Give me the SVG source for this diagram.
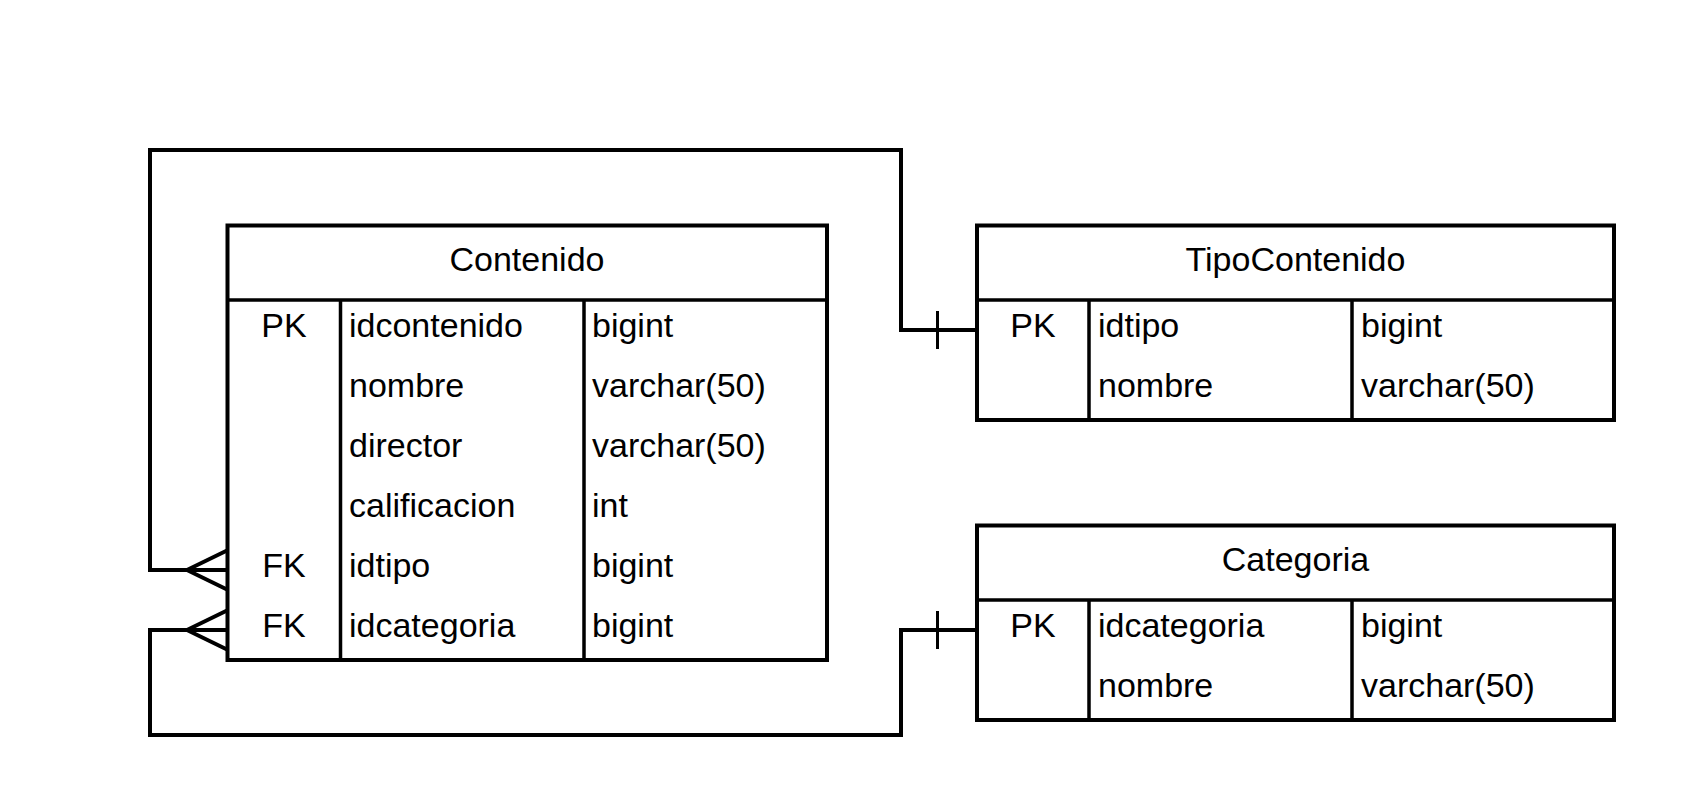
<svg xmlns="http://www.w3.org/2000/svg" width="1689" height="810" viewBox="0 0 1689 810">
<style>
.box{fill:#fff;stroke:#000;stroke-width:4}
.div{fill:none;stroke:#000;stroke-width:3.5}
.conn{fill:none;stroke:#000;stroke-width:4}
.tick{fill:none;stroke:#000;stroke-width:3}
text{font-family:"Liberation Sans",Arial,sans-serif;font-size:34px;fill:#000}
.c{text-anchor:middle}
</style>
<rect width="1689" height="810" fill="#fff"/>
<g id="connectors">
<path class="conn" d="M227,570 H150 V150 H901 V330 H977"/>
<path class="conn" d="M187,570 L227,550.5 M187,570 L227,589.5"/>
<path class="tick" d="M937.5,311 V349"/>
<path class="conn" d="M227,630 H150 V735 H901 V630 H977"/>
<path class="conn" d="M187,630 L227,610.5 M187,630 L227,649.5"/>
<path class="tick" d="M937.5,611 V649"/>
</g>
<g id="Contenido">
<rect class="box" x="227.5" y="225.5" width="599.5" height="434.5"/>
<path class="div" d="M227.5,300 H827 M340.5,300 V660 M584,300 V660"/>
<text class="c" x="527" y="271">Contenido</text>
<text class="c" x="284" y="337">PK</text>
<text x="349" y="337">idcontenido</text>
<text x="592" y="337">bigint</text>
<text x="349" y="397">nombre</text>
<text x="592" y="397">varchar(50)</text>
<text x="349" y="457">director</text>
<text x="592" y="457">varchar(50)</text>
<text x="349" y="517">calificacion</text>
<text x="592" y="517">int</text>
<text class="c" x="284" y="577">FK</text>
<text x="349" y="577">idtipo</text>
<text x="592" y="577">bigint</text>
<text class="c" x="284" y="637">FK</text>
<text x="349" y="637">idcategoria</text>
<text x="592" y="637">bigint</text>
</g>
<g id="TipoContenido">
<rect class="box" x="977" y="225.5" width="637" height="194.5"/>
<path class="div" d="M977,300 H1614 M1089,300 V420 M1352,300 V420"/>
<text class="c" x="1295.5" y="271">TipoContenido</text>
<text class="c" x="1033" y="337">PK</text>
<text x="1098" y="337">idtipo</text>
<text x="1361" y="337">bigint</text>
<text x="1098" y="397">nombre</text>
<text x="1361" y="397">varchar(50)</text>
</g>
<g id="Categoria">
<rect class="box" x="977" y="525.5" width="637" height="194.5"/>
<path class="div" d="M977,600 H1614 M1089,600 V720 M1352,600 V720"/>
<text class="c" x="1295.5" y="571">Categoria</text>
<text class="c" x="1033" y="637">PK</text>
<text x="1098" y="637">idcategoria</text>
<text x="1361" y="637">bigint</text>
<text x="1098" y="697">nombre</text>
<text x="1361" y="697">varchar(50)</text>
</g>
</svg>
